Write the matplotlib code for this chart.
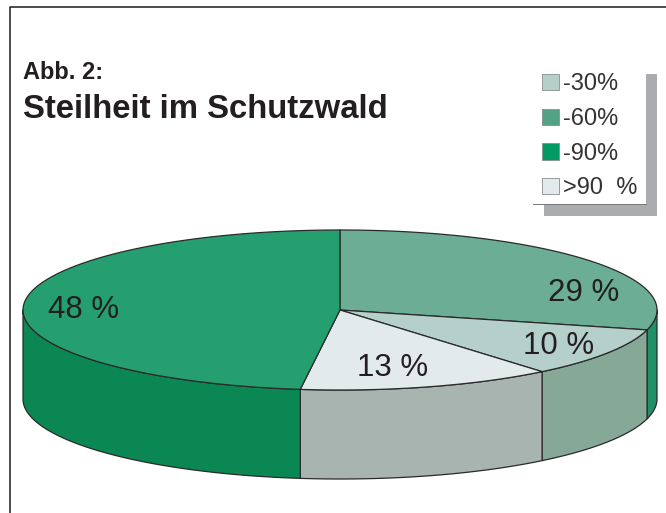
import numpy as np
import matplotlib
matplotlib.use("Agg")
import matplotlib.pyplot as plt
from matplotlib.patches import Rectangle

plt.rcParams['font.family'] = ['Liberation Sans', 'DejaVu Sans']

# slices clockwise from 12 o'clock
slice_names = ["-60%", "-30%", ">90 %", "-90%"]
slice_values = [29, 10, 13, 48]
top_colors = ["#6CAD95", "#B5CFCB", "#E2EAEB", "#259F70"]
wall_colors = ["#1F9068", "#86A896", "#A8B4AF", "#0B8753"]

legend_labels = ["-30%", "-60%", "-90%", ">90  %"]
legend_colors = ["#B5CFCB", "#52A283", "#009A62", "#E2EAEB"]

value_labels = ["29 %", "10 %", "13 %", "48 %"]
label_pos = [(584, 293), (559, 346), (393, 368), (84, 310)]

line_col = "#2A2A2A"
text_col = "#231F20"

# pie geometry in pixels
cx, cy, rx, ry, depth = 340, 310, 317, 80, 89

fig = plt.figure(figsize=(6.66, 5.13), dpi=100)
ax = fig.add_axes([0, 0, 1, 1])
ax.set_xlim(0, 666)
ax.set_ylim(513, 0)
ax.axis("off")


def rim(a1, a2, dy=0):
    # points on the ellipse going clockwise from a1 to a2 (degrees)
    t = np.radians(np.linspace(a1, a2, 200))
    return cx + rx * np.cos(t), cy - ry * np.sin(t) + dy


# page frame
ax.plot([10, 10, 666], [513, 7, 7], color="#1A1A1A", lw=1.1, zorder=1)

angles = 90 - np.cumsum([0] + slice_values) * 3.6

# side walls, only the front half of the rim shows
for i in range(len(slice_values)):
    lo, hi = max(angles[i + 1], -180), min(angles[i], 0)
    if lo >= hi:
        continue
    x, y = rim(hi, lo)
    x2, y2 = rim(lo, hi, depth)
    ax.fill(np.r_[x, x2], np.r_[y, y2], facecolor=wall_colors[i],
            edgecolor=line_col, lw=0.9, joinstyle="round", zorder=2)

# top faces
for i in range(len(slice_values)):
    x, y = rim(angles[i], angles[i + 1])
    ax.fill(np.r_[cx, x], np.r_[cy, y], facecolor=top_colors[i],
            edgecolor=line_col, lw=0.9, joinstyle="round", zorder=3)

for lab, (px, py) in zip(value_labels, label_pos):
    ax.text(px, py, lab, fontsize=22.5, color=text_col, ha="center", va="center", zorder=4)

ax.text(23, 79, "Abb. 2:", fontsize=17, fontweight="bold", color=text_col, va="baseline")
ax.text(23, 118, "Steilheit im Schutzwald", fontsize=23.7, fontweight="bold", color=text_col, va="baseline")

# legend with its grey drop shadow
ax.add_patch(Rectangle((646, 74), 11, 142, facecolor="#ABACB0", edgecolor="none", zorder=1))
ax.add_patch(Rectangle((544, 204), 113, 12, facecolor="#ABACB0", edgecolor="none", zorder=1))
ax.plot([533, 646], [204, 204], color="#777777", lw=0.7, zorder=2)

legend_y = [81.5, 116.5, 151, 185.5]
for lab, col, ly in zip(legend_labels, legend_colors, legend_y):
    ax.add_patch(Rectangle((542, ly - 8), 17, 16.5, facecolor=col, edgecolor="#8A8F8C", lw=0.6, zorder=3))
    ax.text(563, ly + 2.5, lab, fontsize=17, color="#333333", va="center", zorder=4)

fig.savefig("out.png", dpi=100)
